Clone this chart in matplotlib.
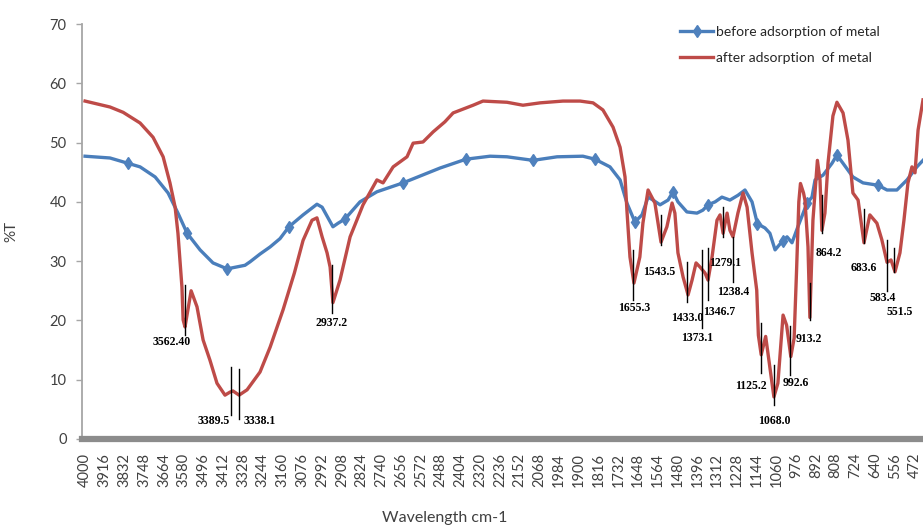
import numpy as np
import matplotlib.pyplot as plt

plt.rcParams['font.family'] = 'Lato'

# before adsorption (blue) - wavenumber / %T
before_wn = [4000, 3894, 3817, 3766, 3702, 3647, 3605, 3566, 3511, 3456, 3396, 3320,
             3298, 3256, 3213, 3171, 3133, 3073, 3014, 2992, 2946, 2924, 2895, 2831,
             2759, 2648, 2491, 2380, 2278, 2206, 2095, 1993, 1883, 1832, 1768, 1725,
             1696, 1662, 1632, 1606, 1585, 1555, 1521, 1500, 1479, 1441, 1398, 1373,
             1351, 1321, 1292, 1258, 1224, 1194, 1164, 1141, 1109, 1088, 1066, 1034,
             1015, 994, 969, 930, 909, 896, 862, 824, 803, 777, 735, 692, 628, 590,
             548, 505, 463, 437]
before_t = [47.7, 47.4, 46.5, 45.9, 44.2, 41.5, 38.1, 34.7, 31.9, 29.7, 28.7, 29.3,
            29.9, 31.2, 32.4, 33.8, 35.8, 37.8, 39.6, 39.1, 35.8, 36.4, 37.1, 40.0,
            41.7, 43.2, 45.7, 47.2, 47.7, 47.6, 47.0, 47.6, 47.7, 47.2, 45.9, 43.7,
            39.8, 36.6, 37.8, 40.8, 40.3, 39.5, 40.3, 41.7, 40.0, 38.3, 38.1, 38.6,
            39.5, 40.0, 40.8, 40.3, 41.1, 42.0, 40.0, 36.3, 35.6, 34.7, 31.9, 33.4,
            34.1, 33.1, 35.8, 39.8, 40.8, 43.7, 44.5, 46.5, 47.9, 46.5, 44.2, 43.2,
            42.8, 42.0, 42.0, 43.7, 45.9, 47.0]
marker_wn = [3817, 3566, 3396, 3133, 2895, 2648, 2380, 2095, 1832, 1662, 1500, 1351,
             1141, 1034, 930, 803, 628]

# after adsorption (red)
after_wn = [4000, 3894, 3838, 3766, 3711, 3668, 3639, 3617, 3605, 3588, 3583, 3575,
            3549, 3524, 3498, 3469, 3439, 3405, 3384, 3371, 3345, 3311, 3256, 3213,
            3158, 3110, 3073, 3035, 3014, 2992, 2971, 2958, 2946, 2916, 2873, 2818,
            2759, 2733, 2690, 2631, 2605, 2563, 2520, 2470, 2435, 2350, 2308, 2206,
            2138, 2065, 1968, 1895, 1840, 1798, 1755, 1725, 1704, 1696, 1683, 1666,
            1641, 1628, 1606, 1577, 1551, 1526, 1504, 1492, 1479, 1457, 1436, 1419,
            1402, 1385, 1364, 1351, 1334, 1313, 1300, 1287, 1270, 1258, 1245, 1224,
            1202, 1185, 1164, 1144, 1137, 1125, 1106, 1088, 1071, 1054, 1032, 1017,
            999, 985, 975, 965, 958, 945, 939, 926, 918, 912, 905, 886, 875, 867,
            854, 841, 820, 803, 777, 756, 735, 713, 688, 663, 633, 612, 590, 573,
            556, 535, 518, 501, 484, 471, 458, 437]
after_t = [57.0, 56.0, 55.1, 53.3, 50.9, 47.6, 43.2, 39.1, 34.7, 25.6, 20.1, 18.9,
           25.0, 22.3, 16.7, 13.3, 9.4, 7.4, 7.9, 8.1, 7.4, 8.3, 11.3, 15.5,
           21.8, 28.0, 33.5, 36.9, 37.3, 34.1, 31.4, 29.0, 23.0, 26.8, 34.1, 39.5,
           43.7, 43.2, 45.9, 47.6, 49.9, 50.1, 51.8, 53.5, 55.0, 56.3, 57.0, 56.8,
           56.3, 56.7, 57.0, 57.0, 56.7, 55.5, 52.6, 49.2, 44.2, 38.6, 30.7, 26.3,
           30.7, 36.4, 42.0, 39.8, 33.2, 35.8, 39.8, 38.1, 31.4, 27.3, 24.3, 26.8,
           29.7, 29.0, 28.0, 26.8, 30.7, 36.9, 37.8, 34.7, 38.1, 35.2, 34.1, 38.1,
           41.5, 39.1, 31.4, 25.1, 17.5, 14.2, 17.3, 12.1, 7.1, 9.4, 20.9, 19.2,
           13.9, 17.0, 28.0, 40.0, 43.1, 41.5, 40.3, 32.4, 20.5, 28.0, 36.9, 47.0, 43.7, 35.2,
           38.1, 46.5, 54.5, 56.8, 55.0, 50.4, 41.5, 40.3, 33.1, 37.8, 36.4, 33.6, 29.8, 30.2,
           28.2, 31.4, 36.9, 43.2, 45.9, 44.9, 52.1, 57.2]

# peak labels: text, line wn, line top, line bottom, text wn, text %T
peaks = [
    ('3562.40', 3575, 26.0, 17.5, 3630, 16.4),
    ('3389.5', 3379, 12.1, 4.0, 3451, 3.0),
    ('3338.1', 3345, 11.8, 3.4, 3256, 3.0),
    ('2937.2', 2950, 29.3, 21.2, 2950, 19.6),
    ('1655.3', 1670, 31.9, 23.4, 1666, 22.1),
    ('1543.5', 1551, 37.8, 32.7, 1560, 28.2),
    ('1433.0', 1440, 29.8, 23.1, 1440, 20.4),
    ('1373.1', 1377, 31.9, 18.7, 1398, 17.0),
    ('1346.7', 1351, 32.2, 23.4, 1304, 21.4),
    ('1279.1', 1287, 39.1, 34.1, 1279, 29.7),
    ('1238.4', 1245, 34.1, 26.5, 1245, 24.8),
    ('1125.2', 1126, 19.6, 11.1, 1168, 8.9),
    ('1068.0', 1071, 12.5, 5.7, 1071, 3.0),
    ('992.6', 1003, 19.1, 10.8, 977, 9.4),
    ('913.2', 918, 26.3, 20.1, 922, 16.9),
    ('864.2', 867, 41.1, 34.7, 837, 31.4),
    ('683.6', 688, 38.8, 33.1, 688, 28.8),
    ('583.4', 590, 33.6, 25.0, 607, 23.8),
    ('551.5', 561, 32.2, 28.2, 535, 21.4),
]

xticks = np.arange(4000, 471, -84)

fig = plt.figure(figsize=(9.23, 5.27), dpi=100)
ax = fig.add_axes([82/923, 88/527, 841/923, 415/527])

idx = [before_wn.index(w) for w in marker_wn]
ax.plot(before_wn, before_t, color='#4a7ebb', lw=2.4, marker='d', ms=6.5,
        markevery=idx, mec='#4f81bd', mfc='#4f81bd', solid_joinstyle='round',
        label='before adsorption of metal')
ax.plot(after_wn, after_t, color='#be4b48', lw=2.4, solid_joinstyle='round',
        label='after adsorption  of metal')

for lab, lw_, y0, y1, tx, ty in peaks:
    ax.plot([lw_, lw_], [y0, y1], color='black', lw=1)
    ax.text(tx, ty, lab, ha='center', va='center', family='Liberation Serif',
            weight='bold', size=8.5)

ax.set_xlim(4013, 437)
ax.set_ylim(0, 70)
ax.set_yticks(range(0, 71, 10))
ax.set_xticks(xticks)
ax.set_xticklabels([str(v) for v in xticks], rotation=90)

for s in ['top', 'right']:
    ax.spines[s].set_visible(False)
ax.spines['left'].set_color('#a6a6a6')
ax.spines['left'].set_linewidth(1.3)
ax.spines['bottom'].set_color('#8c8c8c')
ax.spines['bottom'].set_linewidth(4.5)

ax.tick_params(axis='y', length=4, width=1, color='#a6a6a6', pad=7,
               labelsize=10.5, labelcolor='#404040')
ax.tick_params(axis='x', length=0, pad=10, labelsize=10.5, labelcolor='#404040')

ax.set_ylabel('%T', size=11, color='#404040')
ax.yaxis.set_label_coords(-0.076, 0.5)
fig.text(445/923, 1 - 518/527, 'Wavelength cm-1', ha='center', va='center',
         size=11.5, color='#404040')

ax.legend(loc='upper left', bbox_to_anchor=(680/923, 1 - 26/527),
          bbox_transform=fig.transFigure, frameon=False, fontsize=10,
          handlelength=2.4, handletextpad=0.2, labelspacing=1.0,
          borderaxespad=0, borderpad=0, labelcolor='#262626')

fig.savefig('out.png', dpi=100)
